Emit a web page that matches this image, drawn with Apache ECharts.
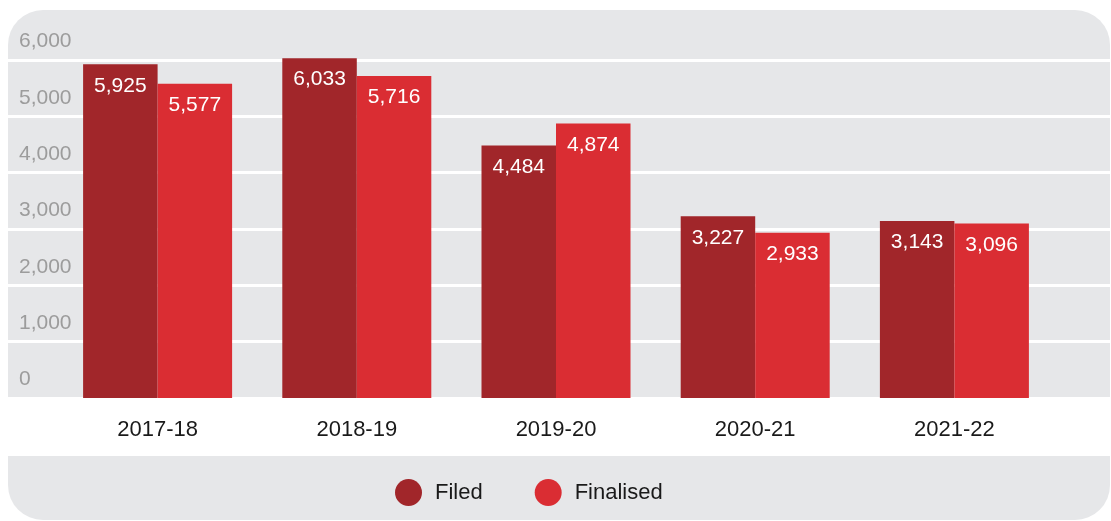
<!DOCTYPE html>
<html>
<head>
<meta charset="utf-8">
<script src="https://cdn.jsdelivr.net/npm/echarts@6/dist/echarts.min.js"></script>
<style>
  html, body { margin: 0; padding: 0; background: #fff; }
  #chart { width: 1111px; height: 521px; }
</style>
</head>
<body>
<div id="chart"></div>
<script>
const years = ['2017-18', '2018-19', '2019-20', '2020-21', '2021-22'];
const filed = [5925, 6033, 4484, 3227, 3143];
const finalised = [5577, 5716, 4874, 2933, 3096];
const yMax = 6000;
const yStep = 1000;

const FONT = '"Liberation Sans", Arial, sans-serif';
const panelGrey = '#e6e7e9';

const chart = echarts.init(document.getElementById('chart'), null, { renderer: 'canvas' });

const barLabel = {
  show: true,
  position: 'insideTop',
  distance: 11,
  color: '#fff',
  fontSize: 21,
  fontFamily: FONT,
  formatter: (p) => p.value.toLocaleString('en-US')
};

const option = {
  animation: false,
  backgroundColor: '#fff',
  graphic: [
    { type: 'rect', z: -10, shape: { x: 8, y: 10, width: 1102, height: 388, r: [35, 35, 0, 0] }, style: { fill: panelGrey } },
    { type: 'rect', z: -10, shape: { x: 8, y: 456, width: 1102, height: 64, r: [0, 0, 35, 35] }, style: { fill: panelGrey } }
  ],
  legend: {
    left: 390,
    top: 474,
    icon: 'circle',
    itemWidth: 27,
    itemHeight: 27,
    itemGap: 52,
    textStyle: { fontSize: 22, fontFamily: FONT, color: '#1a1a1a', padding: [0, 0, 0, 8] },
    data: ['Filed', 'Finalised']
  },
  grid: [
    { left: 58, right: 57, top: 60, bottom: 123 },
    { left: 8, right: 1, top: 60, bottom: 123 }
  ],
  xAxis: [
    {
      gridIndex: 0,
      type: 'category',
      data: years,
      axisLine: { show: false },
      axisTick: { show: false },
      axisLabel: { margin: 21, fontSize: 22, fontFamily: FONT, color: '#1a1a1a' }
    },
    { gridIndex: 1, type: 'value', min: 0, max: 1, show: false }
  ],
  yAxis: [
    { gridIndex: 0, type: 'value', min: 0, max: yMax, interval: yStep, show: false },
    {
      gridIndex: 1,
      type: 'value',
      min: 0,
      max: yMax,
      interval: yStep,
      axisLine: { show: false },
      axisTick: { show: false },
      splitLine: { show: true, lineStyle: { color: '#fff', width: 3 } },
      axisLabel: {
        inside: true,
        margin: 11,
        align: 'left',
        verticalAlign: 'bottom',
        padding: [0, 0, 8, 0],
        fontSize: 21,
        fontFamily: FONT,
        color: '#9c9c9c',
        showMinLabel: true,
        showMaxLabel: true,
        formatter: (v) => v.toLocaleString('en-US')
      }
    }
  ],
  series: [
    {
      name: 'Filed',
      type: 'bar',
      xAxisIndex: 0,
      yAxisIndex: 0,
      data: filed,
      barWidth: 74.5,
      barGap: '0%',
      clip: false,
      z: 5,
      itemStyle: { color: '#a1262a' },
      label: barLabel
    },
    {
      name: 'Finalised',
      type: 'bar',
      xAxisIndex: 0,
      yAxisIndex: 0,
      data: finalised,
      barWidth: 74.5,
      barGap: '0%',
      clip: false,
      z: 5,
      itemStyle: { color: '#da2d33' },
      label: barLabel
    }
  ]
};

chart.setOption(option);
window.addEventListener('resize', chart.resize);
</script>
</body>
</html>
